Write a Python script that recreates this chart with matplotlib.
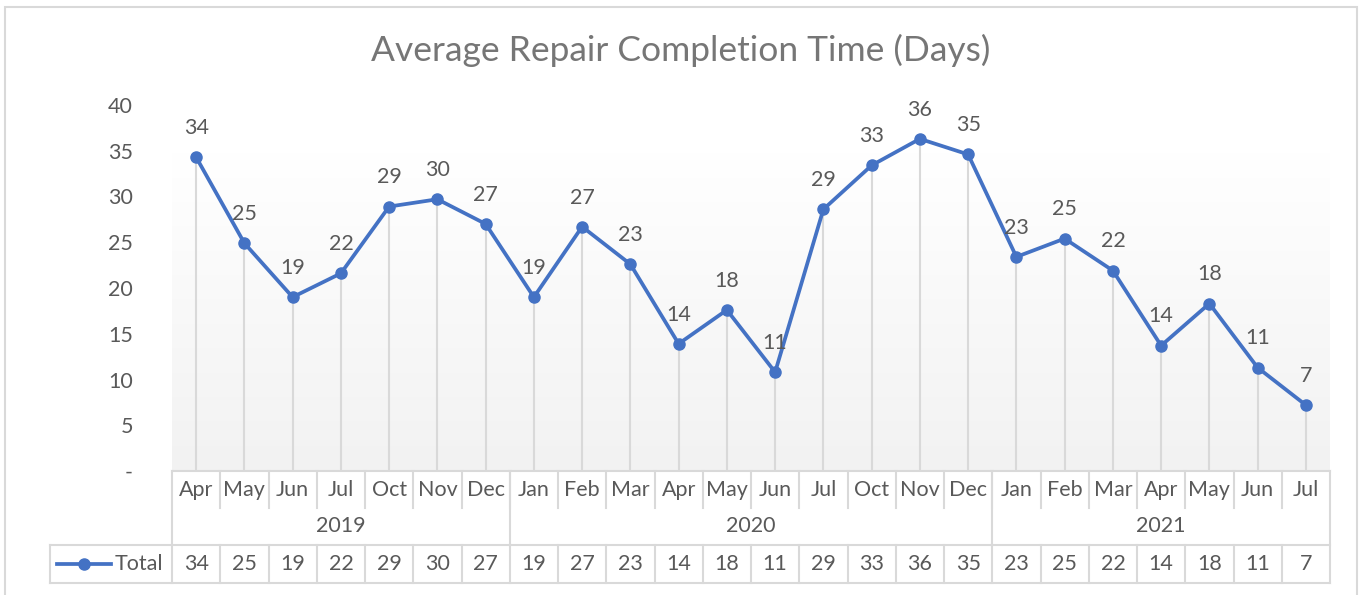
import matplotlib
matplotlib.use("Agg")
import matplotlib.pyplot as plt
import numpy as np
from matplotlib.lines import Line2D
from matplotlib.patches import Rectangle

months = ["Apr", "May", "Jun", "Jul", "Oct", "Nov", "Dec",
          "Jan", "Feb", "Mar", "Apr", "May", "Jun", "Jul", "Oct", "Nov", "Dec",
          "Jan", "Feb", "Mar", "Apr", "May", "Jun", "Jul"]
years = ["2019", "2020", "2021"]
year_counts = [7, 10, 7]
total = [34.3, 24.9, 19.0, 21.6, 28.9, 29.7, 27.0,
         19.0, 26.7, 22.6, 13.9, 17.6, 10.8, 28.6, 33.4, 36.3, 34.6,
         23.4, 25.4, 21.9, 13.7, 18.3, 11.3, 7.2]
series_name = "Total"
title = "Average Repair Completion Time (Days)"

W, H = 1365, 595
BLUE = "#4472C4"
TEXT = "#595959"
GRID = "#d9d9d9"
FS = 15.5
plt.rcParams["font.family"] = ["Lato", "DejaVu Sans"]

fig = plt.figure(figsize=(W / 100, H / 100), dpi=100)


def fx(px):
    return px / W


def fy(py):
    return 1 - py / H


# plot area in pixel coords
L, R, T, B = 172, 1330, 105, 471
ax = fig.add_axes([fx(L), fy(B), fx(R - L), (B - T) / H])
n = len(total)
x = np.arange(n)

# gradient fill: light grey at the bottom, white near the top
t = np.linspace(0, 1, 256).reshape(-1, 1)
t = np.clip(t / 0.87, 0, 1)
col = 0xf2 / 255 + t * (1 - 0xf2 / 255)
img = np.dstack([col, col, col])
ax.imshow(img, extent=[-0.5, n - 0.5, 0, 40], origin="lower", aspect="auto", zorder=0)
ax.set_xlim(-0.5, n - 0.5)
ax.set_ylim(0, 40)

# drop lines
ax.vlines(x, 0, total, color=GRID, lw=1.5, zorder=1)
ax.plot(x, total, color=BLUE, lw=2.7, marker="o", ms=8, zorder=3,
        solid_joinstyle="round")
for xi, v in zip(x, total):
    ax.annotate(f"{round(v):d}", (xi, v), xytext=(0, 21), textcoords="offset points",
                ha="center", va="center", fontsize=FS, color=TEXT, zorder=4)

for s in ax.spines.values():
    s.set_visible(False)
ax.set_xticks([])
yt = np.arange(0, 41, 5)
ax.set_yticks(yt)
ax.set_yticklabels(["-" if v == 0 else str(v) for v in yt])
ax.tick_params(axis="y", length=0, labelsize=FS, labelcolor=TEXT, pad=28)


# category table
def hline(x0, x1, py):
    fig.add_artist(Line2D([fx(x0), fx(x1)], [fy(py), fy(py)], color=GRID, lw=1.5))


def vline(px, y0, y1):
    fig.add_artist(Line2D([fx(px), fx(px)], [fy(y0), fy(y1)], color=GRID, lw=1.5))


step = (R - L) / n
hline(L, R, B)
hline(50, R, 545)
hline(50, R, 583)
vline(50, 545, 583)
vline(L, B, 583)
vline(R, B, 583)
for i in range(1, n):
    vline(L + i * step, B, 508)
    vline(L + i * step, 545, 583)
start = 0
for yr, c in zip(years, year_counts):
    x0 = L + start * step
    x1 = L + (start + c) * step
    if start > 0:
        vline(x0, B, 545)
    fig.text(fx((x0 + x1) / 2), fy(526), yr, ha="center", va="center",
             fontsize=FS, color=TEXT)
    start += c

for i, (m, v) in enumerate(zip(months, total)):
    cx = fx(L + (i + 0.5) * step)
    fig.text(cx, fy(490), m, ha="center", va="center", fontsize=FS, color=TEXT)
    fig.text(cx, fy(564), f"{round(v):d}", ha="center", va="center", fontsize=FS, color=TEXT)

# legend key
fig.add_artist(Line2D([fx(57), fx(111)], [fy(564), fy(564)], color=BLUE, lw=2.7))
fig.add_artist(Line2D([fx(84)], [fy(564)], color=BLUE, marker="o", ms=8))
fig.text(fx(115), fy(564), series_name, ha="left", va="center", fontsize=FS, color=TEXT)

fig.text(fx(681), fy(50), title, ha="center", va="center", fontsize=25.5, color="#767676")

# outer border
fig.add_artist(Rectangle((fx(5), fy(600)), fx(1352), (600 - 7) / H, fill=False,
                         edgecolor=GRID, lw=1.5))

fig.savefig("out.png", dpi=100)
